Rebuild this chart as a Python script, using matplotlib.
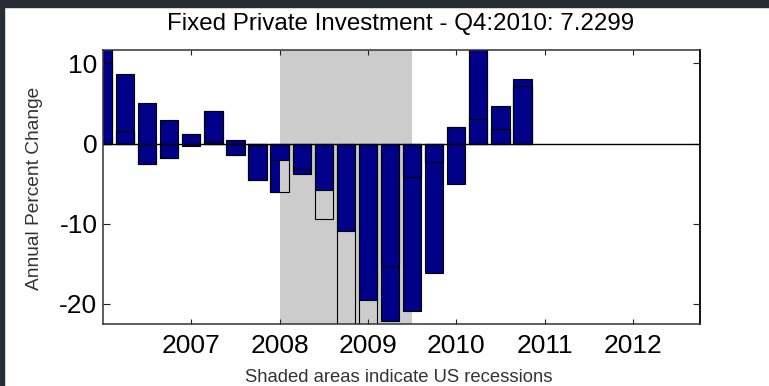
"""Fixed private investment, annual percent change by quarter (FRED-style bar chart)."""
import matplotlib
matplotlib.use("Agg")
import matplotlib.pyplot as plt
from matplotlib.patches import Rectangle

plt.rcParams["font.family"] = ["Liberation Sans", "DejaVu Sans"]
plt.rcParams["axes.unicode_minus"] = False

quarters = ["2006Q1", "2006Q2", "2006Q3", "2006Q4",
            "2007Q1", "2007Q2", "2007Q3", "2007Q4",
            "2008Q1", "2008Q2", "2008Q3", "2008Q4",
            "2009Q1", "2009Q2", "2009Q3", "2009Q4",
            "2010Q1", "2010Q2", "2010Q3", "2010Q4"]
# quarter over quarter, annualized
qoq = [13.0, 1.6, -2.55, -1.75, 1.15, 4.0, -1.45, -4.5,
       -6.1, -3.2, -9.4, -27.0, -36.0, -15.3, -4.2, -2.3,
       2.0, 18.0, 1.77, 7.23]
# year over year
yoy = [10.1, 8.65, 5.1, 2.9, -0.3, 0.15, 0.5, -0.2,
       -2.1, -3.85, -5.8, -10.9, -19.5, -22.1, -20.9, -16.2,
       -5.1, 3.05, 4.67, 8.1]
recession = (2008.0, 2009.5)
year_ticks = [2007, 2008, 2009, 2010, 2011, 2012]
y_ticks = [-20, -10, 0, 10]

BLUE = "#000088"
SHADE = "#cccccc"


def to_year(q):
    return int(q[:4]) + (int(q[-1]) - 1) / 4


def main():
    x = [to_year(q) for q in quarters]
    w = 0.207

    fig = plt.figure(figsize=(7.69, 3.86), dpi=100)
    ax = fig.add_axes([103 / 769, 1 - 324 / 386, 597 / 769, 274.3 / 386])

    # q/q bars underneath the recession band, y/y on top, q/q outlines last
    ax.bar(x, qoq, width=w, color=BLUE, edgecolor="black", linewidth=0.8, zorder=1)
    ax.axvspan(*recession, color=SHADE, lw=0, zorder=2)
    ax.bar(x, yoy, width=w, color=BLUE, edgecolor="black", linewidth=0.8, zorder=3)
    ax.bar(x, qoq, width=w, fill=False, edgecolor="black", linewidth=0.8, zorder=4)
    ax.axhline(0, color="black", lw=1.0, zorder=5)

    ax.set_xlim(2006.0, 2012.76)
    ax.set_ylim(-22.5, 11.7)
    ax.set_xticks(year_ticks)
    ax.set_yticks(y_ticks)
    ax.set_axisbelow(False)
    ax.tick_params(axis="both", direction="in", labelsize=19, color="#222222")
    ax.tick_params(axis="x", top=True, length=3.5, pad=7)
    ax.tick_params(axis="y", right=True, length=5, pad=4)
    for s in ax.spines.values():
        s.set_color("#333333")
        s.set_linewidth(1.1)
        s.set_zorder(6)
    ax.spines["right"].set_color("#111111")
    ax.spines["right"].set_linewidth(1.4)

    fig.text(400.5 / 769, 1 - 30 / 386, "Fixed Private Investment - Q4:2010: 7.2299",
             ha="center", va="baseline", fontsize=17.4, color="black")
    fig.text(35 / 769, 1 - 188 / 386, "Annual Percent Change", rotation=90,
             ha="center", va="center", fontsize=13.8, color="#333333")
    fig.text(398.5 / 769, 1 - 382 / 386, "Shaded areas indicate US recessions",
             ha="center", va="baseline", fontsize=13.3, color="#333333")

    # dark frame along the top and left edges
    fig.patches.append(Rectangle((0, 1 - 7 / 386), 1, 7 / 386, transform=fig.transFigure,
                                 color="#282c34", zorder=10))
    fig.patches.append(Rectangle((0, 0), 3.5 / 769, 1, transform=fig.transFigure,
                                 color="#282c34", zorder=10))

    fig.savefig("out.png", dpi=100)
    plt.close(fig)


if __name__ == "__main__":
    main()
